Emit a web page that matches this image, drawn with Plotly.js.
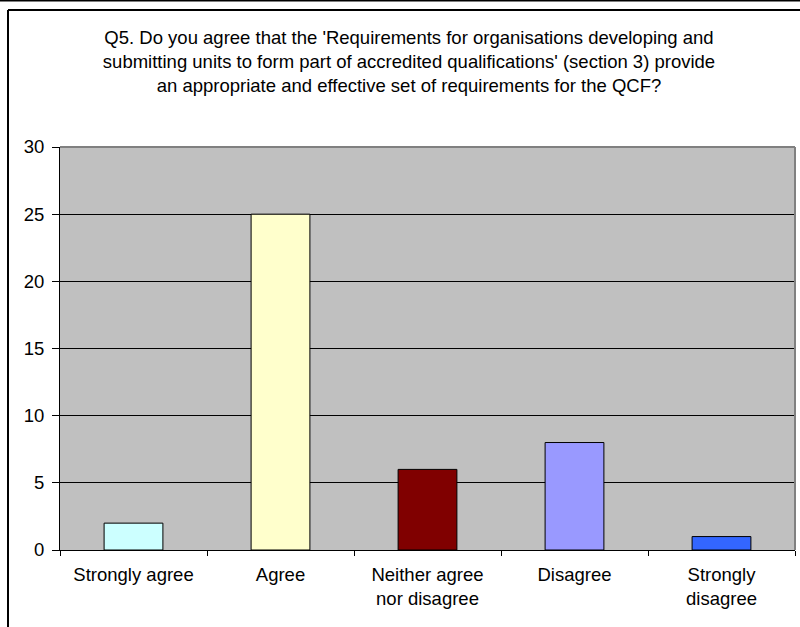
<!DOCTYPE html>
<html>
<head>
<meta charset="utf-8">
<script src="https://cdn.plot.ly/plotly-3.0.1.min.js"></script>
<style>
  html, body { margin: 0; padding: 0; background: #ffffff; }
  #chart { width: 800px; height: 627px; }
</style>
</head>
<body>
<div id="chart"></div>
<script>
const categories = ['Strongly agree', 'Agree', 'Neither agree<br>nor disagree', 'Disagree', 'Strongly<br>disagree'];
const values = [2, 25, 6, 8, 1];
const barColors = ['#CCFFFF', '#FFFFCC', '#800000', '#9999FF', '#3366FF'];
const yTicks = [0, 5, 10, 15, 20, 25, 30];
const titleText = "Q5. Do you agree that the 'Requirements for organisations developing and<br>submitting units to form part of accredited qualifications' (section 3) provide<br>an appropriate and effective set of requirements for the QCF?";

const FONT = 'Liberation Sans, Arial, sans-serif';
const FS = 18.5;
const L = 60, R = 5, T = 147, B = 77;
const W = 800 - L - R, H = 627 - T - B;
const px = x => (x - L) / W;
const py = y => (627 - B - y) / H;

const trace = {
  type: 'bar',
  x: categories,
  y: values,
  marker: { color: barColors, line: { color: '#000000', width: 1 } },
  hoverinfo: 'none'
};

const layout = {
  width: 800, height: 627,
  margin: { l: L, r: R, t: T, b: B, pad: 0 },
  paper_bgcolor: '#ffffff',
  plot_bgcolor: '#C0C0C0',
  showlegend: false,
  bargap: 0.6,
  font: { family: FONT, size: FS, color: '#000000' },
  title: {
    text: titleText,
    font: { family: FONT, size: FS, color: '#000000' },
    xref: 'container', x: 409 / 800, xanchor: 'center',
    yref: 'container', y: 1 - 44 / 627, yanchor: 'top'
  },
  xaxis: {
    type: 'category',
    showgrid: false,
    showline: true, linecolor: '#000000', linewidth: 1,
    ticks: 'outside', tickson: 'boundaries', ticklen: 5, tickcolor: '#000000',
    tickfont: { family: FONT, size: FS, color: '#000000' },
    ticklabelstandoff: 8,
    zeroline: false, fixedrange: true
  },
  yaxis: {
    range: [0, 30],
    tickvals: yTicks,
    showgrid: true, gridcolor: '#000000', gridwidth: 1,
    showline: true, linecolor: '#000000', linewidth: 1,
    ticks: 'outside', ticklen: 7, tickcolor: '#000000',
    tickfont: { family: FONT, size: FS, color: '#000000' },
    ticklabelstandoff: 4,
    zeroline: false, fixedrange: true
  },
  shapes: [
    { type: 'line', xref: 'paper', yref: 'paper', x0: 0, x1: 1, y0: 1, y1: 1, line: { color: '#808080', width: 2 } },
    { type: 'line', xref: 'paper', yref: 'paper', x0: 1, x1: 1, y0: 0, y1: 1, line: { color: '#808080', width: 2 } },
    { type: 'line', xref: 'paper', yref: 'paper', x0: px(0), x1: px(800), y0: py(0.5), y1: py(0.5), line: { color: '#000000', width: 2 } },
    { type: 'line', xref: 'paper', yref: 'paper', x0: px(8), x1: px(800), y0: py(10), y1: py(10), line: { color: '#000000', width: 2 } },
    { type: 'line', xref: 'paper', yref: 'paper', x0: px(8), x1: px(8), y0: py(10), y1: py(627), line: { color: '#000000', width: 2 } }
  ]
};

Plotly.newPlot('chart', [trace], layout, { staticPlot: true, displayModeBar: false });
</script>
</body>
</html>
